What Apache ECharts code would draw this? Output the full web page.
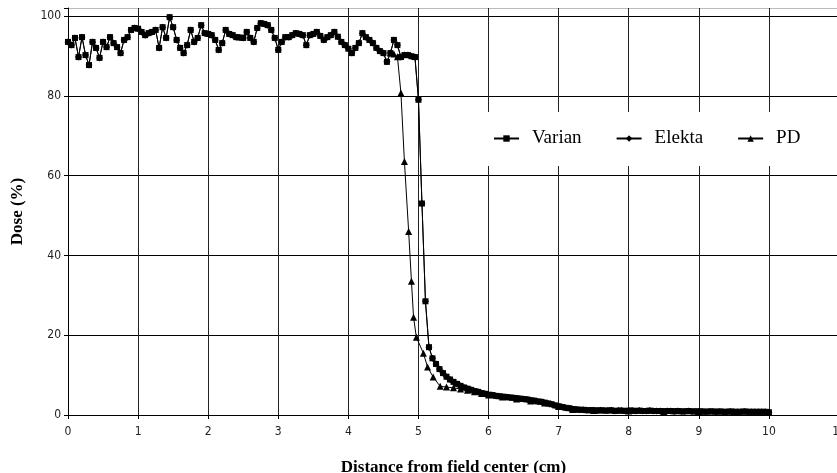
<!DOCTYPE html>
<html>
<head>
<meta charset="utf-8">
<script src="https://cdn.jsdelivr.net/npm/echarts@6/dist/echarts.min.js"></script>
<style>
  html, body { margin: 0; padding: 0; background: #fff; }
  #chart { width: 837px; height: 473px; }
</style>
</head>
<body>
<div id="chart"></div>
<script>
// x positions, 0.05 cm step, 0 .. 10 cm (Varian / Elekta)
const xStep = 0.05;
const varian = [
  93.5, 92.7, 94.5, 89.7, 94.7, 90.2, 87.7, 93.5, 92.0, 89.5,
  93.5, 92.2, 94.7, 93.2, 92.2, 90.7, 94.0, 94.7, 96.5, 97.0,
  96.8, 96.0, 95.2, 95.7, 96.0, 96.5, 92.0, 97.2, 94.5, 99.7,
  97.2, 94.0, 92.0, 90.7, 92.7, 96.5, 93.5, 94.5, 97.7, 95.7,
  95.5, 95.2, 94.0, 91.5, 93.2, 96.5, 95.5, 95.2, 94.7, 94.6,
  94.5, 96.0, 94.5, 93.5, 97.0, 98.2, 98.0, 97.7, 96.5, 94.5,
  91.5, 93.5, 94.7, 94.7, 95.2, 95.7, 95.5, 95.2, 92.7, 95.2,
  95.5, 96.0, 95.0, 94.0, 94.7, 95.2, 96.0, 94.8, 93.5, 92.7,
  91.8, 90.7, 92.0, 93.2, 95.7, 94.7, 94.0, 93.2, 92.0, 91.2,
  90.7, 88.5, 90.7, 94.0, 92.7, 89.7, 90.2, 90.2, 89.9, 89.7,
  79.0, 53.0, 28.5, 17.0, 14.2, 12.8, 11.5, 10.5, 9.6, 8.9,
  8.3, 7.8, 7.3, 6.9, 6.6, 6.3, 6.0, 5.8, 5.5, 5.3,
  5.1, 5.0, 4.8, 4.7, 4.6, 4.5, 4.4, 4.3, 4.2, 4.1,
  4.0, 3.9, 3.7, 3.6, 3.4, 3.3, 3.1, 2.9, 2.7, 2.4,
  2.2, 2.0, 1.8, 1.7, 1.5, 1.4, 1.3, 1.3, 1.2, 1.2,
  1.2, 1.1, 1.2, 1.1, 1.1, 1.2, 1.0, 1.1, 1.1, 1.0,
  1.1, 1.1, 1.0, 1.1, 1.0, 1.0, 1.1, 1.0, 1.0, 1.0,
  0.9, 1.0, 1.0, 0.9, 1.0, 0.9, 0.9, 1.0, 0.9, 0.9,
  0.9, 0.9, 0.8, 0.9, 0.9, 0.8, 0.9, 0.8, 0.8, 0.9,
  0.8, 0.8, 0.8, 0.9, 0.8, 0.8, 0.8, 0.8, 0.8, 0.8,
  0.7
];
// Elekta lies right under the Varian curve in the figure
const elekta = varian;

const pdX = [4.6, 4.65, 4.7, 4.75, 4.8, 4.86, 4.9, 4.93, 4.97, 5.07, 5.13, 5.21, 5.31,
  5.4, 5.5, 5.6, 5.7, 5.8, 5.9, 6.0, 6.2, 6.4, 6.6, 6.8, 7.0, 7.2, 7.5, 8.0, 8.5, 9.0, 9.5, 10.0];
const pdY = [90.7, 90.5, 89.8, 80.7, 63.5, 46.0, 33.5, 24.5, 19.5, 15.5, 12.0, 9.5, 7.2,
  7.0, 6.8, 6.5, 6.2, 5.8, 5.4, 5.0, 4.5, 4.0, 3.5, 3.0, 2.1, 1.4, 1.1, 1.0, 0.9, 0.9, 0.8, 0.7];

const yLabels = [0, 20, 40, 60, 80, 100];

const toPairs = (vals) => vals.map((v, i) => [+(i * xStep).toFixed(2), v]);

const chart = echarts.init(document.getElementById('chart'));

const tickFont = 'DejaVu Sans Condensed, Liberation Sans, sans-serif';
const lineStyle = { color: '#000', width: 1 };
const option = {
  animation: false,
  backgroundColor: '#fff',
  grid: { left: 68, right: -2, top: 8, bottom: 58, outerBoundsMode: 'none', containLabel: false },
  legend: {
    left: 481,
    top: 112,
    backgroundColor: '#fff',
    padding: [17, 12, 18, 12],
    itemGap: 34,
    itemWidth: 25,
    itemHeight: 8,
    textStyle: { fontFamily: 'Liberation Serif', fontSize: 19, color: '#000', padding: [0, 0, 0, 8] },
    data: ['Varian', 'Elekta', 'PD']
  },
  xAxis: {
    type: 'value',
    min: 0,
    max: 11,
    interval: 1,
    name: 'Distance from field center (cm)',
    nameLocation: 'middle',
    nameGap: 44,
    nameTextStyle: { fontFamily: 'Liberation Serif', fontWeight: 'bold', fontSize: 17, color: '#000' },
    axisLine: { lineStyle: { color: '#000' } },
    axisTick: { show: true, length: 4, lineStyle: { color: '#000' } },
    axisLabel: { fontFamily: tickFont, fontSize: 12, color: '#222', margin: 11 },
    splitLine: { show: true, lineStyle: { color: '#222', width: 1 } }
  },
  yAxis: {
    type: 'value',
    min: 0,
    max: 102,
    interval: 20,
    name: 'Dose (%)',
    nameLocation: 'middle',
    nameGap: 42,
    nameRotate: 90,
    nameTextStyle: { fontFamily: 'Liberation Serif', fontWeight: 'bold', fontSize: 17, color: '#000' },
    axisLine: { show: true, lineStyle: { color: '#000' } },
    axisTick: { show: true, length: 4, lineStyle: { color: '#000' } },
    axisLabel: {
      fontFamily: tickFont, fontSize: 12, color: '#222', margin: 7,
      formatter: (v) => (yLabels.indexOf(v) >= 0 ? String(v) : '')
    },
    splitLine: { show: true, lineStyle: { color: ['#000', '#000', '#000', '#000', '#000', '#000', '#bbb'], width: 1 } }
  },
  series: [
    {
      name: 'PD',
      type: 'line',
      data: pdX.map((x, i) => [x, pdY[i]]),
      symbol: 'triangle',
      symbolSize: 7,
      itemStyle: { color: '#000' },
      lineStyle: lineStyle
    },
    {
      name: 'Elekta',
      type: 'line',
      data: toPairs(elekta),
      symbol: 'diamond',
      symbolSize: 7,
      itemStyle: { color: '#000' },
      lineStyle: lineStyle
    },
    {
      name: 'Varian',
      type: 'line',
      data: toPairs(varian),
      symbol: 'rect',
      symbolSize: 6,
      itemStyle: { color: '#000' },
      lineStyle: lineStyle
    }
  ]
};
chart.setOption(option);
</script>
</body>
</html>
